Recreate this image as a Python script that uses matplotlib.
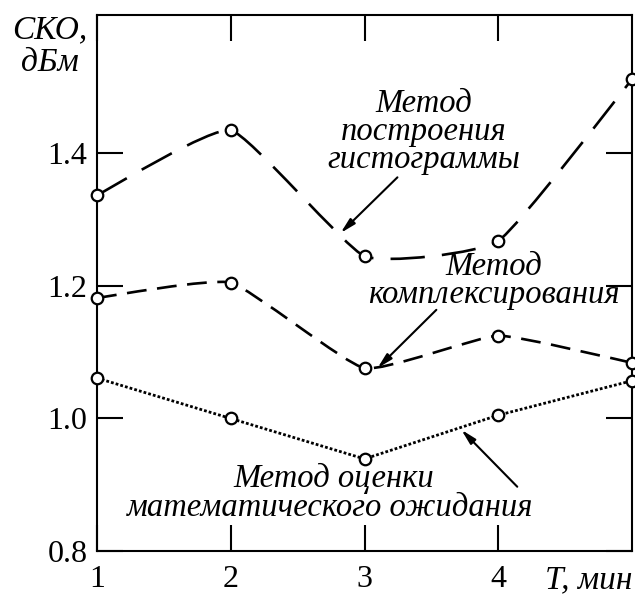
import matplotlib
matplotlib.use("Agg")
import matplotlib.pyplot as plt
from matplotlib.path import Path
from matplotlib.patches import PathPatch
import numpy as np

plt.rcParams["font.family"] = ["Liberation Serif", "DejaVu Serif"]

t = [1, 2, 3, 4, 5]
hist_vals = [1.337, 1.435, 1.245, 1.268, 1.512]
complex_vals = [1.182, 1.205, 1.076, 1.125, 1.084]
mean_vals = [1.061, 1.000, 0.939, 1.005, 1.057]

xticks = [1, 2, 3, 4]
yticks = [0.8, 1.0, 1.2, 1.4]


def smooth_path(x, y, k=1 / 14):
    # bezier through the points, short handles -> just rounded corners
    x = np.asarray(x, float)
    y = np.asarray(y, float)
    verts = [(x[0], y[0])]
    codes = [Path.MOVETO]
    n = len(x)
    for i in range(n - 1):
        p0 = i - 1 if i > 0 else i
        p3 = i + 2 if i + 2 < n else i + 1
        c1 = (x[i] + (x[i + 1] - x[p0]) * k, y[i] + (y[i + 1] - y[p0]) * k)
        c2 = (x[i + 1] - (x[p3] - x[i]) * k, y[i + 1] - (y[p3] - y[i]) * k)
        verts += [c1, c2, (x[i + 1], y[i + 1])]
        codes += [Path.CURVE4] * 3
    return Path(verts, codes)


fig = plt.figure(figsize=(6.35, 5.94), dpi=100)
ax = fig.add_axes([0.1528, 0.0724, 0.8425, 0.9023])

lw = 1.9
ax.add_patch(PathPatch(smooth_path(t, hist_vals), fill=False, lw=lw, ec="black",
                       linestyle=(0, (13, 6.5)), capstyle="butt"))
ax.add_patch(PathPatch(smooth_path(t, complex_vals), fill=False, lw=lw, ec="black",
                       linestyle=(0, (7.5, 4)), capstyle="butt"))
ax.plot(t, mean_vals, color="black", lw=2.0, linestyle=(0, (1.0, 0.75)))

for vals in (hist_vals, complex_vals, mean_vals):
    ax.plot(t, vals, linestyle="none", marker="o", markersize=8.3,
            markerfacecolor="white", markeredgecolor="black", markeredgewidth=1.6,
            zorder=5, clip_on=False)

ax.set_xlim(1, 5)
ax.set_ylim(0.8, 1.609)
ax.set_xticks(xticks)
ax.set_yticks(yticks)
ax.set_yticklabels([f"{v:.1f}" for v in yticks])
ax.tick_params(direction="in", length=19, width=1.5, top=True, right=True,
               labelsize=23)
ax.tick_params(axis="x", pad=10)
ax.tick_params(axis="y", pad=7)
for s in ax.spines.values():
    s.set_linewidth(1.5)

ax.annotate("T, мин", xy=(5, 0), xycoords=("data", "axes fraction"),
            xytext=(0, -10), textcoords="offset points", ha="right", va="top",
            fontsize=24, style="italic")
fig.text(0.079, 0.975, "СКО,\nдБм", ha="center", va="top", fontsize=24,
         style="italic", multialignment="center", linespacing=1.1)

tf = dict(fontsize=23.5, style="italic", ha="center", va="baseline")
ax.text(3.440, 1.4626, "Метод", **tf)
ax.text(3.440, 1.4204, "построения", **tf)
ax.text(3.440, 1.3781, "гистограммы", **tf)
ax.text(3.963, 1.2160, "Метод", **tf)
ax.text(3.963, 1.1740, "комплексирования", **tf)
ax.text(2.769, 0.8970, "Метод оценки", **tf)
ax.text(2.746, 0.8530, "математического ожидания", **tf)

arrow = dict(arrowstyle="-|>,head_length=0.9,head_width=0.22", color="black", lw=1.5,
             shrinkA=0, shrinkB=0)
ax.annotate("", xy=(2.821, 1.280), xytext=(3.246, 1.364), arrowprops=arrow)
ax.annotate("", xy=(3.097, 1.076), xytext=(3.537, 1.164), arrowprops=arrow)
ax.annotate("", xy=(3.724, 0.983), xytext=(4.142, 0.897), arrowprops=arrow)

fig.savefig("out.png", dpi=100)
